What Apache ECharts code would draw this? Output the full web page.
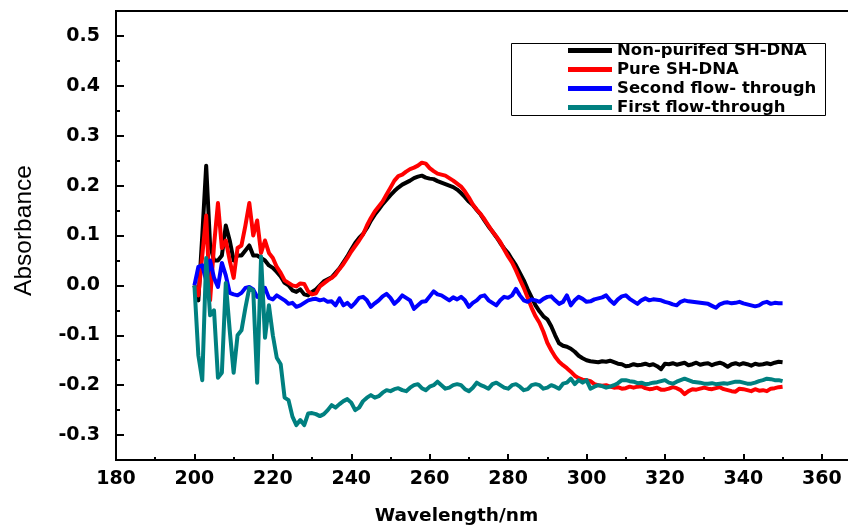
<!DOCTYPE html>
<html>
<head>
<meta charset="utf-8">
<script src="https://cdn.jsdelivr.net/npm/echarts@6/dist/echarts.min.js"></script>
<style>html,body{margin:0;padding:0;background:#fff}#c{width:848px;height:529px}</style>
</head>
<body>
<div id="c"></div>
<script>
var wavelengths = [
200,201,202,203,204,205,206,207,208,209,210,211,212,213,214,215,216,217,218,219,
220,221,222,223,224,225,226,227,228,229,230,231,232,233,234,235,236,237,238,239,
240,241,242,243,244,245,246,247,248,249,250,251,252,253,254,255,256,257,258,259,
260,261,262,263,264,265,266,267,268,269,270,271,272,273,274,275,276,277,278,279,
280,281,282,283,284,285,286,287,288,289,290,291,292,293,294,295,296,297,298,299,
300,301,302,303,304,305,306,307,308,309,310,311,312,313,314,315,316,317,318,319,
320,321,322,323,324,325,326,327,328,329,330,331,332,333,334,335,336,337,338,339,
340,341,342,343,344,345,346,347,348,349,350];

var nonPurified = [
0.000,-0.030,0.100,0.240,0.080,0.050,0.050,0.060,0.120,0.090,0.050,0.060,0.060,0.070,0.080,0.060,0.060,0.055,0.050,0.040,
0.035,0.027,0.018,0.005,0.000,-0.010,-0.013,-0.008,-0.018,-0.020,-0.013,-0.008,0.000,0.008,0.012,0.016,0.025,0.034,0.046,0.058,
0.072,0.085,0.095,0.103,0.115,0.130,0.142,0.152,0.163,0.172,0.181,0.189,0.196,0.202,0.206,0.210,0.215,0.218,0.220,0.216,
0.214,0.213,0.209,0.206,0.203,0.200,0.197,0.192,0.185,0.177,0.168,0.161,0.151,0.142,0.130,0.118,0.108,0.097,0.085,0.074,
0.065,0.052,0.040,0.025,0.010,-0.008,-0.024,-0.040,-0.052,-0.062,-0.068,-0.082,-0.100,-0.116,-0.121,-0.123,-0.127,-0.133,-0.141,-0.146,
-0.150,-0.152,-0.153,-0.154,-0.152,-0.153,-0.151,-0.154,-0.157,-0.158,-0.162,-0.161,-0.158,-0.160,-0.159,-0.157,-0.160,-0.158,-0.162,-0.168,
-0.157,-0.158,-0.156,-0.159,-0.157,-0.155,-0.160,-0.158,-0.155,-0.159,-0.157,-0.156,-0.160,-0.157,-0.155,-0.158,-0.163,-0.158,-0.156,-0.159,
-0.156,-0.158,-0.161,-0.157,-0.159,-0.158,-0.156,-0.158,-0.155,-0.153,-0.154];

var pure = [
0.000,-0.020,0.060,0.140,-0.030,0.080,0.165,0.075,0.090,0.050,0.015,0.075,0.080,0.120,0.165,0.100,0.130,0.065,0.090,0.065,
0.055,0.037,0.025,0.010,0.005,0.000,-0.002,0.004,0.003,-0.012,-0.018,-0.016,-0.002,0.004,0.010,0.015,0.022,0.033,0.043,0.055,
0.068,0.079,0.090,0.102,0.120,0.135,0.148,0.158,0.168,0.182,0.196,0.210,0.219,0.222,0.228,0.233,0.236,0.240,0.246,0.244,
0.235,0.229,0.224,0.222,0.220,0.215,0.210,0.204,0.198,0.188,0.176,0.162,0.152,0.143,0.132,0.120,0.108,0.098,0.087,0.072,
0.058,0.046,0.030,0.012,-0.005,-0.025,-0.045,-0.062,-0.075,-0.093,-0.115,-0.130,-0.143,-0.153,-0.160,-0.166,-0.173,-0.181,-0.186,-0.189,
-0.190,-0.192,-0.198,-0.200,-0.201,-0.200,-0.203,-0.205,-0.204,-0.207,-0.206,-0.203,-0.205,-0.203,-0.202,-0.206,-0.208,-0.207,-0.205,-0.209,
-0.209,-0.207,-0.204,-0.206,-0.210,-0.218,-0.212,-0.208,-0.209,-0.207,-0.205,-0.207,-0.208,-0.206,-0.204,-0.208,-0.210,-0.212,-0.213,-0.207,
-0.208,-0.210,-0.212,-0.208,-0.211,-0.210,-0.212,-0.207,-0.206,-0.204,-0.203];

var secondFlow = [
0.000,0.037,0.040,0.010,0.050,0.015,-0.003,0.045,0.020,-0.015,-0.018,-0.020,-0.015,-0.005,-0.003,-0.008,-0.023,-0.020,-0.005,-0.025,
-0.028,-0.020,-0.025,-0.030,-0.037,-0.035,-0.043,-0.040,-0.035,-0.030,-0.028,-0.027,-0.030,-0.028,-0.033,-0.032,-0.040,-0.026,-0.040,-0.035,
-0.043,-0.035,-0.025,-0.023,-0.030,-0.043,-0.036,-0.030,-0.022,-0.017,-0.025,-0.037,-0.030,-0.020,-0.025,-0.030,-0.047,-0.040,-0.033,-0.032,
-0.022,-0.012,-0.018,-0.020,-0.025,-0.030,-0.024,-0.028,-0.023,-0.030,-0.043,-0.035,-0.030,-0.022,-0.020,-0.030,-0.035,-0.040,-0.030,-0.023,
-0.025,-0.020,-0.007,-0.020,-0.030,-0.033,-0.028,-0.030,-0.033,-0.027,-0.023,-0.022,-0.030,-0.037,-0.033,-0.020,-0.040,-0.030,-0.023,-0.027,
-0.033,-0.032,-0.028,-0.026,-0.024,-0.020,-0.030,-0.037,-0.028,-0.022,-0.020,-0.027,-0.032,-0.037,-0.030,-0.026,-0.030,-0.028,-0.029,-0.030,
-0.033,-0.035,-0.038,-0.040,-0.033,-0.030,-0.032,-0.033,-0.034,-0.035,-0.036,-0.037,-0.041,-0.045,-0.038,-0.035,-0.034,-0.036,-0.035,-0.033,
-0.036,-0.038,-0.040,-0.042,-0.040,-0.035,-0.033,-0.037,-0.035,-0.036,-0.036];

var firstFlow = [
0.000,-0.140,-0.190,0.055,-0.060,-0.050,-0.185,-0.175,0.005,-0.090,-0.175,-0.100,-0.090,-0.045,-0.005,-0.010,-0.195,0.058,-0.105,-0.040,
-0.100,-0.145,-0.158,-0.225,-0.230,-0.263,-0.280,-0.270,-0.280,-0.257,-0.256,-0.258,-0.262,-0.258,-0.250,-0.240,-0.245,-0.238,-0.232,-0.228,
-0.235,-0.250,-0.245,-0.232,-0.225,-0.220,-0.225,-0.222,-0.215,-0.210,-0.212,-0.208,-0.206,-0.210,-0.212,-0.205,-0.200,-0.198,-0.206,-0.210,
-0.203,-0.200,-0.193,-0.200,-0.207,-0.205,-0.200,-0.198,-0.200,-0.208,-0.212,-0.205,-0.195,-0.200,-0.203,-0.207,-0.198,-0.195,-0.200,-0.205,
-0.207,-0.200,-0.198,-0.203,-0.210,-0.208,-0.200,-0.198,-0.200,-0.207,-0.205,-0.200,-0.203,-0.207,-0.197,-0.195,-0.187,-0.198,-0.190,-0.195,
-0.190,-0.207,-0.203,-0.200,-0.202,-0.205,-0.203,-0.200,-0.196,-0.190,-0.190,-0.192,-0.193,-0.196,-0.195,-0.198,-0.197,-0.195,-0.194,-0.192,
-0.190,-0.195,-0.197,-0.193,-0.190,-0.187,-0.190,-0.193,-0.194,-0.195,-0.197,-0.197,-0.196,-0.198,-0.197,-0.196,-0.197,-0.195,-0.193,-0.193,
-0.195,-0.197,-0.197,-0.195,-0.192,-0.190,-0.187,-0.188,-0.190,-0.190,-0.192];

var seriesNames = ['Non-purifed SH-DNA', 'Pure SH-DNA', 'Second flow- through', 'First flow-through'];
var seriesColors = ['#000000', '#ff0000', '#0000ff', '#008080'];
var yMajorTicks = [-0.3, -0.2, -0.1, 0.0, 0.1, 0.2, 0.3, 0.4, 0.5];

function pairs(vals) {
  return wavelengths.map(function (w, i) { return [w, vals[i]]; });
}
var allValues = [nonPurified, pure, secondFlow, firstFlow];

var chart = echarts.init(document.getElementById('c'), null, {renderer: 'canvas'});
var boldFont = 'DejaVu Sans';
chart.setOption({
  animation: false,
  backgroundColor: '#ffffff',
  grid: {left: 116, top: 11, width: 745, height: 449, show: true, borderColor: '#000', borderWidth: 2,
         backgroundColor: 'transparent', outerBoundsMode: 'none', containLabel: false},
  graphic: [{
    type: 'rect', left: 509, top: 41, z: 100,
    shape: {width: 314, height: 72},
    style: {fill: 'none', stroke: '#000', lineWidth: 1}
  }],
  legend: {
    show: true,
    orient: 'vertical',
    left: 509, top: 41,
    data: seriesNames,
    icon: 'rect',
    itemWidth: 44, itemHeight: 5, itemGap: 2,
    padding: [1, 4, 1, 59],
    backgroundColor: '#fff',
    textStyle: {fontFamily: boldFont, fontWeight: 'bold', fontSize: 16.5, color: '#000', lineHeight: 16}
  },
  xAxis: [{
    type: 'value', min: 180, max: 370, interval: 20,
    position: 'bottom',
    axisLine: {show: true, onZero: false, lineStyle: {color: '#000', width: 2}},
    axisTick: {show: true, inside: true, length: 6, lineStyle: {color: '#000', width: 2}},
    minorTick: {show: true, splitNumber: 2, length: 3, lineStyle: {color: '#000', width: 2}},
    splitLine: {show: false},
    axisLabel: {showMaxLabel: false, margin: 10, color: '#000', fontFamily: boldFont, fontWeight: 'bold', fontSize: 19},
    name: 'Wavelength/nm', nameLocation: 'middle', nameGap: 47,
    nameTextStyle: {color: '#000', fontFamily: boldFont, fontWeight: 'bold', fontSize: 18.5, padding: [0, 64, 0, 0]}
  }],
  yAxis: [{
    type: 'value', min: -0.35, max: 0.55, interval: 0.05,
    axisLine: {show: true, onZero: false, lineStyle: {color: '#000', width: 2}},
    axisTick: {show: true, inside: true, length: 4, lineStyle: {color: '#000', width: 2}},
    splitLine: {show: false},
    axisLabel: {
      margin: 16, color: '#000', fontFamily: boldFont, fontWeight: 'bold', fontSize: 19,
      formatter: function (v) {
        var k = Math.round(v * 100);
        if (k % 10 !== 0) return '';
        return (k / 100).toFixed(1);
      }
    },
    name: 'Absorbance', nameLocation: 'middle', nameGap: 79,
    nameTextStyle: {color: '#000', fontFamily: 'Liberation Sans', fontSize: 24.5, padding: [0, 0, 0, 10]}
  }, {
    type: 'value', min: -0.35, max: 0.55, position: 'left',
    axisLine: {show: false},
    axisTick: {show: true, inside: true, length: 8, customValues: yMajorTicks, lineStyle: {color: '#000', width: 2}},
    axisLabel: {show: false},
    splitLine: {show: false}
  }],
  series: seriesNames.map(function (n, i) {
    return {
      name: n, type: 'line', xAxisIndex: 0, yAxisIndex: 0,
      data: pairs(allValues[i]), showSymbol: false, symbol: 'none',
      lineStyle: {color: seriesColors[i], width: 4, join: 'round'},
      itemStyle: {color: seriesColors[i]},
      z: 2 + i
    };
  })
});
</script>
</body>
</html>
